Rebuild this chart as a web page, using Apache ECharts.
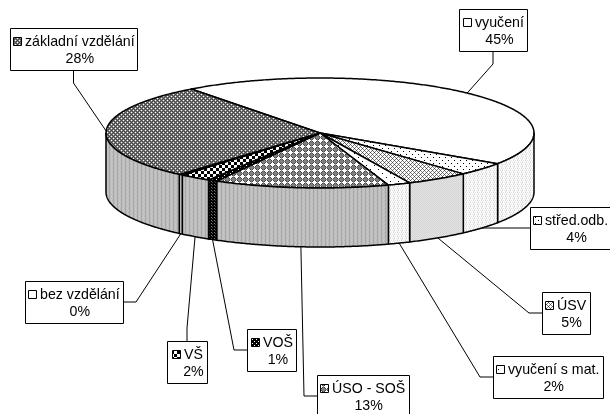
<!DOCTYPE html>
<html>
<head>
<meta charset="utf-8">
<style>
  html, body { margin: 0; padding: 0; background: #fff; overflow: hidden; }
  #chart { width: 610px; height: 414px; }
</style>
<script src="https://cdn.jsdelivr.net/npm/echarts@6/dist/echarts.min.js"></script>
</head>
<body>
<div id="chart"></div>
<script>
// clockwise from the top-left of the pie
const categories = ['vyučení', 'střed.odb.', 'ÚSV', 'vyučení s mat.', 'ÚSO - SOŠ', 'VOŠ', 'VŠ', 'bez vzdělání', 'základní vzdělání']
const shares = [44.7, 3.9, 4.8, 1.7, 13.2, 0.7, 2.4, 0.3, 28.3]

// flattened pie geometry
const pie = { cx: 320, cy: 133, rx: 214, ry: 55, depth: 59, start: 127 }

// label boxes: x, y, w, h, leader leaves from which side
const boxes = [
  [459, 9, 68, 42, 'bottom'],
  [530, 207, 90, 42, 'left'],
  [542, 292, 48, 42, 'left'],
  [493, 356, 110, 42, 'left'],
  [317, 375, 92, 42, 'left'],
  [247, 329, 49, 42, 'left'],
  [167, 341, 40, 42, 'top'],
  [25, 281, 98, 42, 'right'],
  [10, 28, 127, 42, 'bottom']
]

const shades = { k: '#000', d: '#444', g: '#808080', m: '#a8a8a8', c: '#bcbcbc', l: '#c8c8c8', a: '#d4d4d4', e: '#e4e4e4', f: '#f2f2f2', w: '#fff' }

function tile (rows) {
  const c = document.createElement('canvas')
  c.width = rows[0].length
  c.height = rows.length
  const ctx = c.getContext('2d')
  rows.forEach((row, y) => {
    row.split('').forEach((ch, x) => {
      ctx.fillStyle = shades[ch]
      ctx.fillRect(x, y, 1, 1)
    })
  })
  return { image: c, repeat: 'repeat' }
}

const grayWall = tile(['cmcl', 'cmcl', 'lmcc', 'cmcl'])
const dotWall = tile(['wawe', 'fwew', 'ewaw', 'wefw'])

const topFill = [
  '#fff',
  tile(['wwwwww', 'wkwwww', 'wwwwww', 'wwwwww', 'wwwwkw', 'wwwwww']),
  tile(['wwdw', 'wgwg', 'dwww', 'wgwg']),
  tile(['wwwwwwww', 'wwkwwwww', 'wwwwwwww', 'wwwwwwww', 'wwwwwwww', 'wwwwwwkw', 'wwwwwwww', 'wwwwwwww']),
  tile(['gdwdgg', 'dwwwdg', 'wwwwwg', 'dwwwdg', 'gdwdgg', 'gggggg']),
  tile(['kkkk', 'kkwk', 'kkkk', 'wkkk']),
  tile(['kkkwww', 'kkkwww', 'kkkwww', 'wwwkkk', 'wwwkkk', 'wwwkkk']),
  tile(['kkkwww', 'kkkwww', 'kkkwww', 'wwwkkk', 'wwwkkk', 'wwwkkk']),
  tile(['gdgw', 'dgdg', 'gwgd', 'dgdg'])
]
const sideFill = [
  dotWall,
  dotWall,
  tile(['aeae', 'eaea', 'aeae', 'eaea']),
  dotWall,
  grayWall,
  tile(['kkk', 'kgk', 'kkd']),
  grayWall,
  grayWall,
  grayWall
]
const keyFill = topFill.map((f, i) => i === 0 || i === 7 ? '#fff' : f)

const total = shares.reduce((a, b) => a + b, 0)
const spans = []
let running = pie.start
shares.forEach(v => {
  const sweep = v / total * 360
  spans.push([running, running - sweep])
  running -= sweep
})

function rim (t, drop) {
  const r = t * Math.PI / 180
  return [pie.cx + pie.rx * Math.cos(r), pie.cy - pie.ry * Math.sin(r) + (drop || 0)]
}

function arc (from, to, drop) {
  const pts = []
  const n = Math.max(2, Math.ceil(Math.abs(from - to) * 2))
  for (let i = 0; i <= n; i++) pts.push(rim(from + (to - from) * i / n, drop))
  return pts
}

function renderSlice (params, api) {
  const i = params.dataIndex
  const [from, to] = spans[i]
  const children = []
  const line = { stroke: '#000', lineWidth: 1.5, lineJoin: 'round' }
  children.push({
    type: 'polygon',
    shape: { points: [[pie.cx, pie.cy]].concat(arc(from, to)) },
    style: Object.assign({ fill: topFill[i] }, line)
  })
  // only the front half of the rim shows a wall
  const a = Math.min(from, 0)
  const b = Math.max(to, -180)
  if (a > b) {
    children.push({
      type: 'polygon',
      shape: { points: arc(a, b).concat(arc(b, a, pie.depth)) },
      style: Object.assign({ fill: sideFill[i] }, line)
    })
  }
  return { type: 'group', children: children }
}

function anchorOf (i) {
  const mid = (spans[i][0] + spans[i][1]) / 2
  return rim(mid, Math.sin(mid * Math.PI / 180) < 0 ? pie.depth : 0)
}

function leaderOf (i) {
  const [x, y, w, h, side] = boxes[i]
  const anchor = anchorOf(i)
  const stub = 13
  if (side === 'left') return [[x, y + h / 2], [x - stub, y + h / 2], anchor]
  if (side === 'right') return [[x + w, y + h / 2], [x + w + stub, y + h / 2], anchor]
  if (side === 'top') return [[x + w / 2, y], [x + w / 2, y - stub], anchor]
  return [[x + w / 2, y + h], [x + w / 2, y + h + stub], anchor]
}

const labelFont = '14.2px "Liberation Sans", Arial, sans-serif'

function renderLabel (params, api) {
  const i = params.dataIndex
  const [x, y, w, h] = boxes[i]
  const name = categories[i]
  const nameW = echarts.format.getTextRect ? echarts.format.getTextRect(name, labelFont).width : name.length * 7
  const keySize = 8
  const gap = 4
  // the střed.odb. box runs off the page, center its text in the visible part
  const boxW = Math.min(w, 610 - x + 2)
  const keyX = Math.round(x + (boxW - keySize - gap - nameW) / 2)
  const textX = keyX + keySize + gap
  return {
    type: 'group',
    children: [
      {
        type: 'polyline',
        shape: { points: leaderOf(i) },
        style: { fill: 'none', stroke: '#000', lineWidth: 1 }
      },
      {
        type: 'rect',
        shape: { x: x + 0.5, y: y + 0.5, width: w, height: h },
        style: { fill: '#fff', stroke: '#000', lineWidth: 1 }
      },
      {
        type: 'rect',
        shape: { x: keyX + 0.5, y: y + 9.5, width: keySize, height: keySize },
        style: { fill: keyFill[i], stroke: '#000', lineWidth: 1 }
      },
      {
        type: 'text',
        style: {
          x: textX, y: y + 14, text: name, font: labelFont,
          fill: '#000', textAlign: 'left', textVerticalAlign: 'middle'
        }
      },
      {
        type: 'text',
        style: {
          x: textX + nameW / 2, y: y + 31.5, text: Math.round(shares[i]) + '%', font: labelFont,
          fill: '#000', textAlign: 'center', textVerticalAlign: 'middle'
        }
      }
    ]
  }
}

const myChart = echarts.init(document.getElementById('chart'), null, { renderer: 'canvas' })
myChart.setOption({
  animation: false,
  backgroundColor: '#fff',
  series: [
    {
      type: 'custom',
      coordinateSystem: 'none',
      silent: true,
      clip: false,
      data: shares,
      renderItem: renderSlice
    },
    {
      type: 'custom',
      coordinateSystem: 'none',
      silent: true,
      clip: false,
      z: 5,
      data: categories.map((c, i) => shares[i]),
      renderItem: renderLabel
    }
  ]
})
</script>
</body>
</html>
